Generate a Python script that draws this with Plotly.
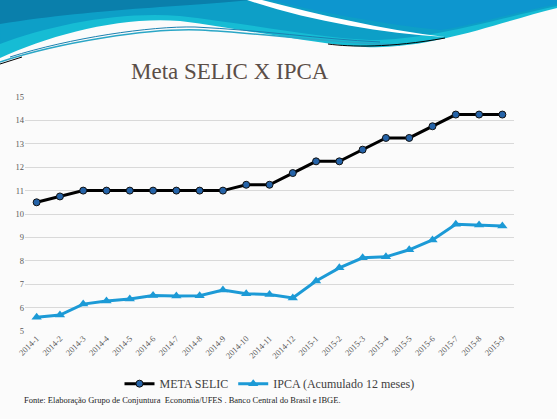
import plotly.graph_objects as go

# ---- Data ---- #
meses = ['2014-1', '2014-2', '2014-3', '2014-4', '2014-5', '2014-6', '2014-7',
         '2014-8', '2014-9', '2014-10', '2014-11', '2014-12',
         '2015-1', '2015-2', '2015-3', '2015-4', '2015-5', '2015-6',
         '2015-7', '2015-8', '2015-9']
meta_selic = [10.5, 10.75, 11.0, 11.0, 11.0, 11.0, 11.0, 11.0, 11.0, 11.25, 11.25,
              11.75, 12.25, 12.25, 12.75, 13.25, 13.25, 13.75, 14.25, 14.25, 14.25]
ipca_12m = [5.59, 5.68, 6.15, 6.28, 6.37, 6.52, 6.50, 6.51, 6.75, 6.59, 6.56,
            6.41, 7.14, 7.70, 8.13, 8.17, 8.47, 8.89, 9.56, 9.53, 9.49]

# ---- Page geometry (pixels) ---- #
W, H = 557, 419
ML, MR, MT, MB = 25, 43, 97, 88


def P(x, y):
    # page pixel -> paper coords
    return f"{(x - ML) / (W - ML - MR):.4f},{(H - MB - y) / (H - MT - MB):.4f}"


def path(*cmds):
    out = ''
    for c in cmds:
        if isinstance(c, str):
            out += c
        else:
            out += P(*c) + ' '
    return out


SERIF = 'Liberation Serif, DejaVu Serif, serif'

fig = go.Figure()
fig.add_trace(go.Scatter(
    x=meses, y=meta_selic, name='META SELIC', mode='lines+markers',
    line=dict(color='black', width=3),
    marker=dict(symbol='circle', size=7, color='#2563a8',
                line=dict(color='#111111', width=1))))
fig.add_trace(go.Scatter(
    x=meses, y=ipca_12m, name='IPCA (Acumulado 12 meses)', mode='lines+markers',
    line=dict(color='#1c9ad6', width=3),
    marker=dict(symbol='triangle-up', size=9, color='#1c9ad6')))

# ---- Header wave (decoration) ---- #
shapes = []
shapes.append(dict(type='path', xref='paper', yref='paper', layer='below',
    path=path('M', (0, 0), 'L', (557, 0), 'L', (557, 8), 'C', (500, 22), (430, 50), (365, 47),
              'C', (320, 45), (250, 30), (180, 21), 'C', (120, 16), (50, 35), (0, 58), 'Z'),
    fillcolor='#16bcd4', line=dict(width=0)))
shapes.append(dict(type='path', xref='paper', yref='paper', layer='below',
    path=path('M', (0, 0), 'L', (557, 0), 'L', (557, 6), 'C', (500, 18), (430, 40), (370, 40),
              'C', (320, 38), (250, 24), (180, 16), 'C', (120, 11), (50, 25), (0, 44), 'Z'),
    fillcolor='#0d9fc7', line=dict(width=0)))
shapes.append(dict(type='path', xref='paper', yref='paper', layer='below',
    path=path('M', (0, 0), 'L', (250, 0), 'C', (200, 6), (100, 8), (0, 24), 'Z'),
    fillcolor='#0a7fab', line=dict(width=0)))
shapes.append(dict(type='path', xref='paper', yref='paper', layer='below',
    path=path('M', (270, 0), 'L', (557, 0), 'L', (557, 4), 'C', (500, 16), (470, 26), (440, 30),
              'C', (380, 24), (320, 12), (270, 0), 'Z'),
    fillcolor='#0d96cf', line=dict(width=0)))
shapes.append(dict(type='path', xref='paper', yref='paper', layer='below',
    path=path('M', (247, 0), 'L', (262, 0), 'C', (320, 15), (380, 29), (445, 37),
              'C', (380, 33), (310, 21), (247, 0), 'Z'),
    fillcolor='white', line=dict(width=0)))
shapes.append(dict(type='path', xref='paper', yref='paper', layer='below',
    path=path('M', (0, 62), 'C', (60, 42), (150, 28), (200, 30), 'C', (260, 33), (320, 42), (400, 45)),
    line=dict(color='#2aa6c6', width=1.5)))
shapes.append(dict(type='path', xref='paper', yref='paper', layer='below',
    path=path('M', (10, 57), 'C', (70, 38), (150, 26), (195, 27), 'C', (260, 30), (320, 39), (380, 42)),
    line=dict(color='#1a80b0', width=1)))
shapes.append(dict(type='path', xref='paper', yref='paper', layer='below',
    path=path('M', (0, 64), 'L', (22, 57)),
    line=dict(color='black', width=1)))
shapes.append(dict(type='path', xref='paper', yref='paper', layer='below',
    path=path('M', (328, 44), 'C', (350, 47), (390, 48), (445, 38)),
    line=dict(color='black', width=1)))

fig.update_layout(
    width=W, height=H,
    margin=dict(l=ML, r=MR, t=MT, b=MB, autoexpand=False),
    paper_bgcolor='#fbfbfb', plot_bgcolor='#fbfbfb',
    shapes=shapes,
    showlegend=True,
    legend=dict(orientation='h', x=0.5, xanchor='center', y=-0.225, yanchor='middle',
                font=dict(family=SERIF, size=12, color='#404040'),
                bgcolor='rgba(0,0,0,0)', itemwidth=30),
    xaxis=dict(type='category', tickangle=-45, showgrid=False, showline=False,
               ticks='', range=[-0.5, 20.5], automargin=False,
               tickfont=dict(family=SERIF, size=8.5, color='#595959')),
    yaxis=dict(range=[5, 15], dtick=1, showgrid=True, gridcolor='#d9d9d9', gridwidth=1,
               zeroline=False, showline=False, ticks='', automargin=False,
               tickfont=dict(family=SERIF, size=8.5, color='#595959')),
    annotations=[
        dict(text='Meta SELIC X IPCA', xref='paper', yref='paper',
             x=(230 - ML) / (W - ML - MR), y=(H - MB - 72) / (H - MT - MB),
             xanchor='center', yanchor='middle', showarrow=False,
             font=dict(family=SERIF, size=23, color='#5b4e47')),
        dict(text='Fonte: Elaboração Grupo de Conjuntura  Economia/UFES . Banco Central do Brasil e IBGE.',
             xref='paper', yref='paper',
             x=(22 - ML) / (W - ML - MR), y=(H - MB - 400) / (H - MT - MB),
             xanchor='left', yanchor='middle', showarrow=False,
             font=dict(family=SERIF, size=8.5, color='#222222')),
    ],
)

# page body margin off so the figure sits at the window corner
fig.write_html('out.html', config={'displayModeBar': False},
               post_script="document.body.style.margin='0';")
